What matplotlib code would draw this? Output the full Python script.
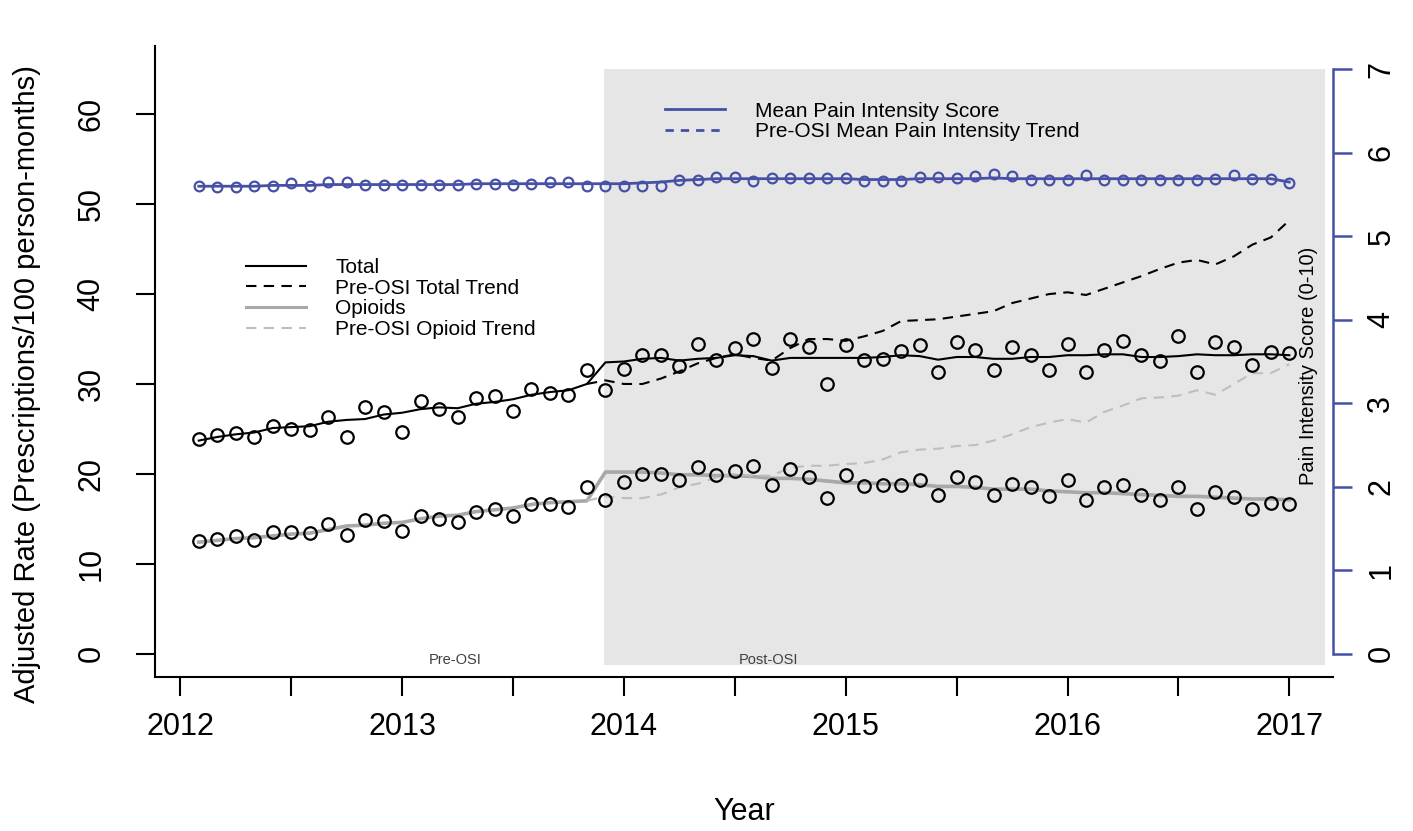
import numpy as np
import matplotlib
matplotlib.use("Agg")
import matplotlib.pyplot as plt
from matplotlib.lines import Line2D
from matplotlib.patches import Rectangle

plt.rcParams['font.family'] = ['Liberation Sans', 'DejaVu Sans']

# ---------------- data ----------------
# monthly observations, Feb 2012 .. Jan 2017 (value index 0..59)
month_offsets = np.arange(1, 61)
time = 2012 + month_offsets / 12.0
n_pre = 22  # first post-OSI month index (Dec 2013)

total_obs = [23.9, 24.3, 24.5, 24.1, 25.3, 25.0, 24.9, 26.3, 24.1, 27.4, 26.9, 24.7,
             28.1, 27.2, 26.3, 28.4, 28.7, 27.0, 29.4, 29.0, 28.8, 31.5,
             29.3, 31.7, 33.2, 33.2, 32.0, 34.5, 32.7, 34.0, 35.0, 31.8, 35.0, 34.1,
             30.0, 34.3, 32.7, 32.8, 33.7, 34.3, 31.3, 34.7, 33.8, 31.5, 34.1, 33.2,
             31.5, 34.5, 31.3, 33.8, 34.8, 33.2, 32.5, 35.3, 31.3, 34.7, 34.1, 32.1,
             33.6, 33.4]
total_fit = [23.7, 24.1, 24.4, 24.6, 25.1, 25.2, 25.3, 25.8, 26.0, 26.1, 26.6, 26.8,
             27.2, 27.4, 27.3, 27.8, 28.0, 28.3, 28.8, 29.1, 29.3, 30.0,
             32.4, 32.5, 32.8, 32.9, 32.6, 32.8, 32.9, 33.2, 33.1, 32.6, 32.9, 32.9,
             32.9, 32.9, 32.9, 33.0, 33.2, 33.1, 32.7, 33.0, 33.0, 32.8, 32.8, 33.0,
             33.0, 33.2, 33.2, 33.3, 33.3, 33.0, 33.0, 33.1, 33.3, 33.2, 33.2, 33.3,
             33.3, 33.2]
# pre-OSI trend projection, from index 21 to 59
total_cf = [30.0, 30.4, 30.0, 30.0, 30.6, 31.4, 32.3, 32.9, 33.3, 32.9,
            32.6, 34.0, 35.0, 35.0, 34.8, 35.3, 35.9, 37.0, 37.1, 37.2,
            37.5, 37.8, 38.1, 39.0, 39.5, 40.0, 40.2, 39.9, 40.6, 41.3,
            42.0, 42.8, 43.5, 43.8, 43.3, 44.2, 45.5, 46.3, 48.2]

opioid_obs = [12.5, 12.8, 13.1, 12.6, 13.5, 13.5, 13.4, 14.4, 13.2, 14.9, 14.7, 13.6,
              15.3, 15.0, 14.6, 15.8, 16.1, 15.3, 16.7, 16.7, 16.3, 18.5,
              17.1, 19.1, 20.0, 20.0, 19.3, 20.8, 19.9, 20.3, 20.9, 18.8, 20.5, 19.6,
              17.3, 19.9, 18.7, 18.8, 18.8, 19.3, 17.7, 19.6, 19.1, 17.7, 18.9, 18.5,
              17.5, 19.3, 17.1, 18.5, 18.8, 17.7, 17.1, 18.5, 16.1, 18.0, 17.4, 16.1,
              16.8, 16.6]
opioid_fit = [12.4, 12.6, 12.8, 12.9, 13.1, 13.3, 13.4, 13.8, 14.2, 14.3, 14.5, 14.6,
              15.0, 15.3, 15.4, 15.8, 16.0, 16.2, 16.6, 16.8, 16.9, 17.0,
              20.2, 20.2, 20.2, 20.1, 19.9, 19.9, 19.8, 19.8, 19.7, 19.5, 19.5, 19.4,
              19.2, 19.0, 19.0, 18.9, 18.9, 18.8, 18.6, 18.6, 18.5, 18.3, 18.3, 18.3,
              18.1, 18.0, 17.9, 17.9, 17.8, 17.7, 17.6, 17.5, 17.5, 17.4, 17.3, 17.2,
              17.2, 17.1]
opioid_cf = [17.0, 17.5, 17.3, 17.3, 17.7, 18.5, 18.9, 19.6, 20.0, 19.8,
             19.8, 20.7, 20.9, 20.9, 21.1, 21.2, 21.6, 22.4, 22.7, 22.8,
             23.1, 23.2, 23.7, 24.4, 25.2, 25.7, 26.1, 25.7, 26.9, 27.6,
             28.4, 28.5, 28.7, 29.3, 28.8, 30.0, 31.2, 31.2, 32.2]

pain_obs = [5.60, 5.59, 5.59, 5.60, 5.60, 5.64, 5.60, 5.65, 5.65, 5.61, 5.61, 5.61,
            5.61, 5.61, 5.61, 5.63, 5.63, 5.61, 5.63, 5.65, 5.65, 5.60,
            5.60, 5.60, 5.60, 5.60, 5.68, 5.67, 5.71, 5.71, 5.66, 5.70, 5.70, 5.70,
            5.70, 5.70, 5.66, 5.66, 5.66, 5.71, 5.71, 5.70, 5.72, 5.75, 5.72, 5.68,
            5.68, 5.68, 5.73, 5.68, 5.68, 5.68, 5.68, 5.68, 5.68, 5.69, 5.73, 5.69,
            5.69, 5.64]
pain_fit = [5.60, 5.60, 5.60, 5.60, 5.61, 5.61, 5.61, 5.62, 5.62, 5.62, 5.62, 5.62,
            5.62, 5.62, 5.62, 5.63, 5.63, 5.63, 5.63, 5.63, 5.63, 5.63,
            5.63, 5.63, 5.64, 5.65, 5.67, 5.68, 5.69, 5.69, 5.69, 5.69, 5.69, 5.69,
            5.69, 5.69, 5.68, 5.68, 5.68, 5.69, 5.69, 5.69, 5.69, 5.70, 5.69, 5.69,
            5.69, 5.69, 5.69, 5.69, 5.69, 5.69, 5.69, 5.69, 5.69, 5.69, 5.69, 5.69,
            5.69, 5.65]

year_ticks = [2012, 2013, 2014, 2015, 2016, 2017]
half_year_ticks = [2012.5, 2013.5, 2014.5, 2015.5, 2016.5]
rate_ticks = [0, 10, 20, 30, 40, 50, 60]
pain_ticks = [0, 1, 2, 3, 4, 5, 6, 7]

# ---------------- styles ----------------
BLUE = '#4650A6'
SHADE = '#E6E6E6'
GREY_SOLID = '#A8A8A8'
GREY_DASH = '#BEBEBE'

fig = plt.figure(figsize=(14.13, 8.31), dpi=100)
ax = fig.add_axes([155/1413, 154/831, (1333-155)/1413, (677-46)/831])
ax.set_xlim(2011.886, 2017.197)
ax.set_ylim(-2.6, 67.6)

# shaded post-OSI region
osi_start = time[n_pre] - 0.005
ax.add_patch(Rectangle((osi_start, -1.3), 2017.16 - osi_start, 66.3,
                       facecolor=SHADE, edgecolor='none', zorder=0))

t = np.asarray(time)
ax.plot(t, total_fit, color='black', lw=1.5, zorder=3)
ax.plot(t[n_pre-1:], total_cf, color='black', lw=1.5, ls=(0, (5, 3.5)), zorder=3)
ax.plot(t, opioid_fit, color=GREY_SOLID, lw=2.6, zorder=3)
ax.plot(t[n_pre-1:], opioid_cf, color=GREY_DASH, lw=1.5, ls=(0, (5, 3.5)), zorder=3)
ax.plot(t, total_obs, ls='none', marker='o', ms=9, mfc='none', mec='black', mew=1.6, zorder=4)
ax.plot(t, opioid_obs, ls='none', marker='o', ms=9, mfc='none', mec='black', mew=1.6, zorder=4)

ax.text(2013.24, -0.7, 'Pre-OSI', fontsize=10.5, color='#404040', ha='center', va='center')
ax.text(2014.65, -0.7, 'Post-OSI', fontsize=10.5, color='#404040', ha='center', va='center')

# axes styling
for s in ['top', 'right']:
    ax.spines[s].set_visible(False)
for s in ['left', 'bottom']:
    ax.spines[s].set_linewidth(1.5)
ax.set_xticks(year_ticks)
ax.set_xticks(half_year_ticks, minor=True)
ax.set_xticklabels([str(y) for y in year_ticks])
ax.set_yticks(rate_ticks)
ax.tick_params(axis='both', which='both', length=14, width=1.5, labelsize=22, direction='out')
ax.tick_params(axis='x', pad=11)
ax.tick_params(axis='y', pad=21, labelrotation=90)
for lbl in ax.get_yticklabels():
    lbl.set_va('center')
ax.set_xlabel('Year', fontsize=22, labelpad=40)
ax.set_ylabel('Adjusted Rate (Prescriptions/100 person-months)', fontsize=21)
ax.yaxis.set_label_coords(-0.097, 0.465)

# legend for rates
h1 = [Line2D([], [], color='black', lw=1.5),
      Line2D([], [], color='black', lw=1.5, ls=(0, (5, 3.5))),
      Line2D([], [], color=GREY_SOLID, lw=2.2),
      Line2D([], [], color=GREY_DASH, lw=1.5, ls=(0, (5, 3.5)))]
leg1 = ax.legend(h1, ['Total', 'Pre-OSI Total Trend', 'Opioids', 'Pre-OSI Opioid Trend'],
                 loc='upper left', bbox_to_anchor=(0.077, 0.664), frameon=False,
                 fontsize=15, handlelength=2.9, handletextpad=1.4, labelspacing=0.08,
                 borderpad=0, borderaxespad=0)

# pain axis
ax2 = ax.twinx()
ax2.set_ylim(-0.28, 7.28)
ax2.plot(t, pain_fit, color=BLUE, lw=2.0, zorder=3)
ax2.plot(t, pain_obs, ls='none', marker='o', ms=7, mfc='none', mec=BLUE, mew=1.6, zorder=4)
for s in ['top', 'left', 'bottom']:
    ax2.spines[s].set_visible(False)
ax2.spines['right'].set_color(BLUE)
ax2.spines['right'].set_linewidth(1.8)
ax2.spines['right'].set_bounds(0, 7)
ax2.set_yticks(pain_ticks)
ax2.tick_params(axis='y', length=14, width=1.8, color=BLUE, labelsize=22, pad=10,
                labelrotation=90, labelcolor='black')
for lbl in ax2.get_yticklabels():
    lbl.set_va('center')
ax2.text(0.979, 0.493, 'Pain Intensity Score (0-10)', transform=ax2.transAxes,
         rotation=90, fontsize=14.5, ha='center', va='center')

h2 = [Line2D([], [], color=BLUE, lw=2.0),
      Line2D([], [], color=BLUE, lw=2.0, ls=(0, (3, 2.5)))]
leg2 = ax2.legend(h2, ['Mean Pain Intensity Score', 'Pre-OSI Mean Pain Intensity Trend'],
                  loc='upper left', bbox_to_anchor=(0.433, 0.912), frameon=False,
                  fontsize=15, handlelength=2.9, handletextpad=1.4, labelspacing=0.08,
                  borderpad=0, borderaxespad=0)

fig.savefig('out.png', dpi=100)
